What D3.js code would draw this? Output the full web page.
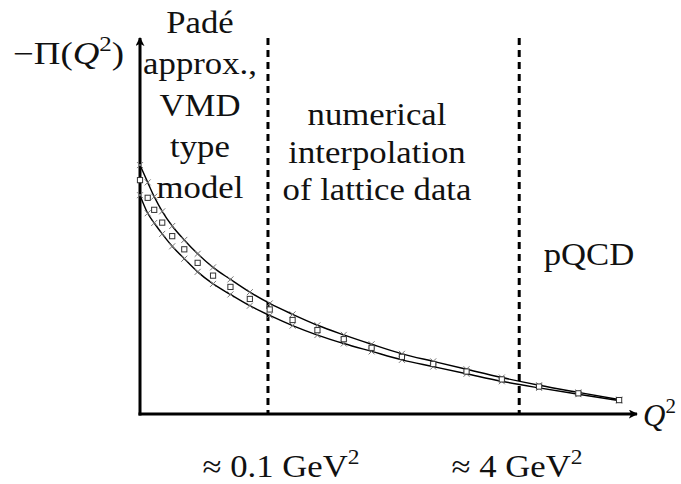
<!DOCTYPE html>
<html>
<head>
<meta charset="utf-8">
<script src="https://cdn.jsdelivr.net/npm/d3@7"></script>
</head>
<body style="margin:0">
<svg id="fig" width="681" height="484"></svg>
<script>
// Q^2 sample points (arbitrary, schematic units)
const q2 = [0, 1.55, 2.86, 4.47, 6.48, 8.91, 11.6, 14.7, 18.2, 22.1, 26.1, 30.7,
            35.7, 41.0, 46.6, 52.7, 59.0, 65.7, 72.8, 80.3, 88.2, 96.4];
// -Pi(Q^2): central values and upper / lower edge of the error band
const central = [62.2, 57.5, 54.3, 50.9, 47.3, 43.8, 40.2, 36.8, 33.8, 30.6, 27.8, 25.0,
                 22.3, 19.9, 17.6, 15.2, 13.3, 11.3, 9.2, 7.3, 5.5, 3.7];
const upper   = [66.2, 61.6, 57.8, 53.9, 50.0, 46.3, 42.6, 39.0, 35.8, 32.4, 29.4, 26.5,
                 23.6, 21.05, 18.55, 16.0, 14.0, 11.9, 9.7, 7.65, 5.74, 3.83];
const lower   = [58.2, 53.4, 50.8, 47.9, 44.6, 41.3, 37.8, 34.6, 31.8, 28.8, 26.2, 23.5,
                 21.0, 18.75, 16.65, 14.4, 12.6, 10.7, 8.7, 6.95, 5.26, 3.57];
// region boundaries on the Q^2 axis
const boundaries = [25.75, 76.3];
const boundaryLabels = [["≈ 0.1 GeV", "2"], ["≈ 4 GeV", "2"]];
// region descriptions
const regionLeft = ["Padé", "approx.,", "VMD", "type", "model"];
const regionMid = ["numerical", "interpolation", "of lattice data"];
const regionRight = ["pQCD"];

const FONT = "Liberation Serif";
const FS = 31;        // main text size
const FS_SUP = 21;    // superscripts
const STRETCH = 1.12; // set the serif face a little wider

const svg = d3.select("#fig");
const x = d3.scaleLinear().domain([0, 100]).range([140, 637]);
const y = d3.scaleLinear().domain([0, 100]).range([414, 38]);

// ---- texts ----
const textLayer = svg.append("g");

// a text inside its own group, widened by a horizontal scale;
// align = "middle" centres it on xp, otherwise xp is its left edge
function label(xp, yp, build, k, align) {
  const g = textLayer.append("g");
  const t = g.append("text")
    .attr("x", 0).attr("y", 0)
    .attr("font-family", FONT)
    .attr("font-size", FS)
    .attr("fill", "#111");
  build(t);
  const w = t.node().getComputedTextLength();
  if (align === "middle") t.attr("x", -w / 2);
  g.attr("transform", `translate(${xp},${yp}) scale(${k},1)`);
  return g;
}

// axis labels
label(13, 64, t => {
  t.append("tspan").text("−Π(");
  t.append("tspan").attr("font-style", "italic").text("Q");
  t.append("tspan").attr("font-size", FS_SUP).attr("dy", -13).text("2");
  t.append("tspan").attr("dy", 13).text(")");
}, 1.19, "start");

label(643, 426, t => {
  t.append("tspan").attr("font-style", "italic").text("Q");
  t.append("tspan").attr("font-size", FS_SUP).attr("dy", -13).text("2");
}, 1.0, "start");

// region texts
regionLeft.forEach((d, i) => label(200, 33 + i * 41.3, t => t.text(d), STRETCH, "middle"));
regionMid.forEach((d, i) => label(377, 125 + i * 37.5, t => t.text(d), STRETCH, "middle"));
regionRight.forEach(d => label(589, 265, t => t.text(d), STRETCH, "middle"));

// boundary labels below the axis
const labelX = [281, 517];
boundaryLabels.forEach((lab, i) => {
  label(labelX[i], 477, t => {
    t.append("tspan").text(lab[0]);
    t.append("tspan").attr("font-size", FS_SUP).attr("dy", -13).text(lab[1]);
  }, STRETCH, "middle");
});

// ---- marks ----
const defs = svg.append("defs");
defs.append("marker")
  .attr("id", "arrowhead")
  .attr("viewBox", "0 0 10 10")
  .attr("refX", 9).attr("refY", 5)
  .attr("markerWidth", 3.2).attr("markerHeight", 3.0)
  .attr("markerUnits", "strokeWidth")
  .attr("orient", "auto")
  .append("path")
  .attr("d", "M0,0 L10,5 L0,10 L2.5,5 Z")
  .attr("fill", "#000");

// dashed region boundaries
svg.selectAll("line.boundary")
  .data(boundaries)
  .join("line")
  .attr("class", "boundary")
  .attr("x1", d => x(d)).attr("x2", d => x(d))
  .attr("y1", y(100)).attr("y2", y(0))
  .attr("stroke", "#000")
  .attr("stroke-width", 3)
  .attr("stroke-dasharray", "7,5");

// axes with arrowheads
svg.append("line")
  .attr("x1", x(0)).attr("x2", x(0))
  .attr("y1", y(0) + 1.5).attr("y2", y(100))
  .attr("stroke", "#000").attr("stroke-width", 3)
  .attr("marker-end", "url(#arrowhead)");
svg.append("line")
  .attr("x1", x(0) - 1.5).attr("x2", x(100))
  .attr("y1", y(0)).attr("y2", y(0))
  .attr("stroke", "#000").attr("stroke-width", 3)
  .attr("marker-end", "url(#arrowhead)");

// band edges
const line = vals => d3.line()
  .x((d, i) => x(q2[i]))
  .y(d => y(d))
  .curve(d3.curveMonotoneX)(vals);
[upper, lower].forEach(vals => {
  svg.append("path").attr("d", line(vals)).attr("fill", "none")
    .attr("stroke", "#000").attr("stroke-width", 1.4);
});

// cross markers on the band edges
const crossPts = [];
q2.forEach((q, i) => { crossPts.push([q, upper[i]], [q, lower[i]]); });
svg.append("g").selectAll("path")
  .data(crossPts)
  .join("path")
  .attr("d", d => {
    const cx = x(d[0]), cy = y(d[1]), r = 3;
    return `M${cx - r},${cy - r}L${cx + r},${cy + r}M${cx - r},${cy + r}L${cx + r},${cy - r}`;
  })
  .attr("stroke", "#777").attr("stroke-width", 1).attr("fill", "none");

// square markers on the central values
svg.append("g").selectAll("rect")
  .data(q2)
  .join("rect")
  .attr("x", (d) => x(d) - 2.6)
  .attr("y", (d, i) => y(central[i]) - 2.6)
  .attr("width", 5.2).attr("height", 5.2)
  .attr("fill", "#fff").attr("stroke", "#333").attr("stroke-width", 1);
</script>
</body>
</html>
